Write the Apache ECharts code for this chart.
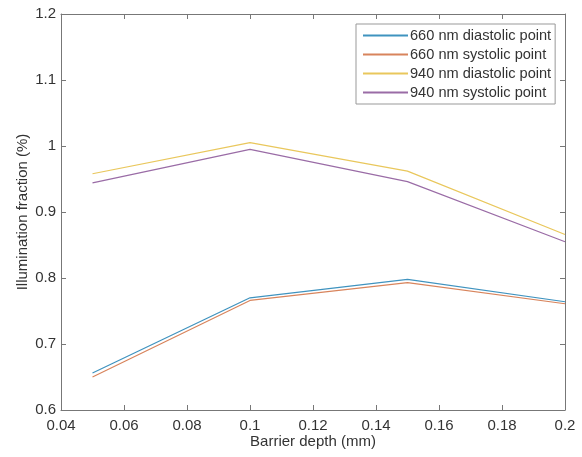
<!DOCTYPE html>
<html>
<head>
<meta charset="utf-8">
<script src="https://cdn.jsdelivr.net/npm/echarts@6/dist/echarts.min.js"></script>
<style>
  html, body { margin: 0; padding: 0; background: #fff; }
  #chart { width: 582px; height: 457px; }
</style>
</head>
<body>
<div id="chart"></div>
<script>
// barrier depth (mm)
const depths = [0.05, 0.1, 0.15, 0.2];
const d660 = [0.656, 0.770, 0.798, 0.764];
const s660 = [0.650, 0.766, 0.793, 0.761];
const d940 = [0.958, 1.005, 0.962, 0.866];
const s940 = [0.944, 0.995, 0.946, 0.855];
const seriesNames = [
  "660 nm diastolic point",
  "660 nm systolic point",
  "940 nm diastolic point",
  "940 nm systolic point",
];
const colors = ["#3f93bf", "#d8845c", "#e9c75c", "#9a6ca6"];

const font = "'Liberation Sans', Arial, sans-serif";
const axisColor = "#777";
const textColor = "#333";

const chart = echarts.init(document.getElementById("chart"));

const tickStyle = { inside: true, length: 5, lineStyle: { color: axisColor } };

chart.setOption({
  animation: false,
  color: colors,
  grid: { left: 61, right: 17, top: 14, bottom: 47 },
  legend: {
    orient: "vertical",
    left: 356,
    top: 24,
    backgroundColor: "#fff",
    borderColor: "#999",
    borderWidth: 1,
    borderRadius: 0,
    padding: [4, 4, 4, 6],
    itemWidth: 45,
    itemHeight: 12,
    itemGap: 4,
    itemStyle: { opacity: 0 },
    textStyle: { fontFamily: font, fontSize: 14.6, color: textColor, padding: [0, 0, 0, -3] },
  },
  xAxis: [
    {
      type: "value",
      min: 0.04,
      max: 0.2,
      interval: 0.02,
      name: "Barrier depth (mm)",
      nameLocation: "middle",
      nameGap: 24,
      nameMoveOverlap: false,
      nameTextStyle: { fontFamily: font, fontSize: 15, color: textColor },
      axisLine: { show: true, lineStyle: { color: axisColor } },
      axisTick: tickStyle,
      axisLabel: {
        fontFamily: font, fontSize: 15, color: textColor, margin: 8,
        formatter: (v) => String(+v.toFixed(2)),
      },
      splitLine: { show: false },
    },
    {
      type: "value",
      position: "top",
      min: 0.04,
      max: 0.2,
      interval: 0.02,
      axisLine: { show: true, lineStyle: { color: axisColor } },
      axisTick: tickStyle,
      axisLabel: { show: false },
      splitLine: { show: false },
    },
  ],
  yAxis: [
    {
      type: "value",
      min: 0.6,
      max: 1.2,
      interval: 0.1,
      name: "Illumination fraction (%)",
      nameLocation: "middle",
      nameGap: 31,
      nameMoveOverlap: false,
      nameTextStyle: { fontFamily: font, fontSize: 15, color: textColor },
      axisLine: { show: true, lineStyle: { color: axisColor } },
      axisTick: tickStyle,
      axisLabel: {
        fontFamily: font, fontSize: 15, color: textColor, margin: 5,
        formatter: (v) => String(+v.toFixed(1)),
      },
      splitLine: { show: false },
    },
    {
      type: "value",
      position: "right",
      min: 0.6,
      max: 1.2,
      interval: 0.1,
      axisLine: { show: true, lineStyle: { color: axisColor } },
      axisTick: tickStyle,
      axisLabel: { show: false },
      splitLine: { show: false },
    },
  ],
  series: [d660, s660, d940, s940].map((vals, i) => ({
    name: seriesNames[i],
    type: "line",
    symbol: "none",
    lineStyle: { width: 1.2 },
    data: depths.map((x, j) => [x, vals[j]]),
  })),
});
</script>
</body>
</html>
